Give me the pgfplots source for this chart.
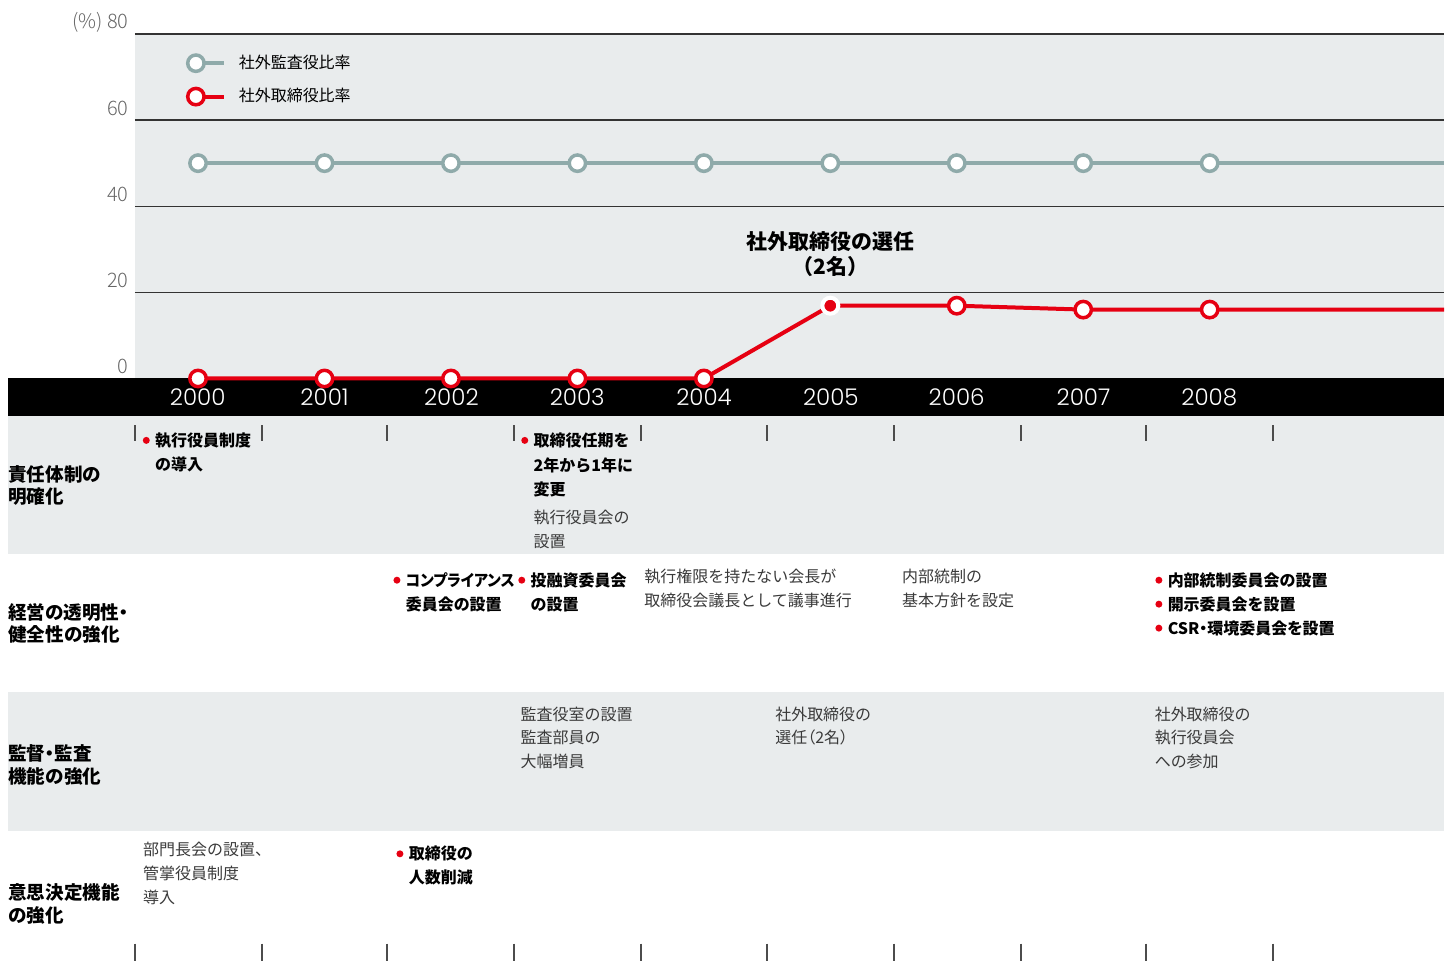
\documentclass[border=0pt]{standalone}
\usepackage{pgfplots}
\pgfplotsset{compat=1.18}
\usepackage{fontspec}
\setmainfont{Noto Sans CJK JP}
\IfFontExistsTF{Poppins Light}{\newfontfamily\yearfont{Poppins Light}}{\newfontfamily\yearfont{Poppins}}
\IfFontExistsTF{Noto Sans CJK JP Light}{\newfontfamily\tickfont{Noto Sans CJK JP Light}}{\newfontfamily\tickfont{Noto Sans CJK JP}}
\newcommand\palt{\addfontfeature{RawFeature=+palt}}
\definecolor{bggray}{HTML}{E9ECED}
\definecolor{grayline}{HTML}{8FAAAA}
\definecolor{jred}{HTML}{E60012}
\definecolor{ticklab}{HTML}{666666}
\definecolor{txt}{HTML}{3A3A3A}
\begin{document}
\begin{tikzpicture}
\begin{scope}[x=0.5bp,y=-0.5bp]
\path (0,0) rectangle (1446,965);
\fill[bggray] (8,417) rectangle (1446,555);
\fill[bggray] (8,693) rectangle (1446,832);
\fill[black] (8,379) rectangle (1446,417);
\end{scope}
\begin{axis}[
  at={(67.5bp,-189.5bp)}, anchor=south west,
  scale only axis, width=655.5bp, height=172.5bp,
  xmin=1999.5, xmax=2009.853, ymin=0, ymax=80,
  clip=false,
  axis line style={draw=none},
  xtick=\empty,
  ytick={20,40,60,80},
  yticklabels={20,40,60,{(\%) 80}},
  extra y ticks={0}, extra y tick labels={0},
  extra y tick style={grid=none},
  major tick length=0pt,
  ymajorgrids,
  grid style={draw=black!80, line width=0.7bp},
  yticklabel style={anchor=base east, inner sep=0pt, xshift=-3bp, yshift=2.5bp,
    font=\tickfont\fontsize{10bp}{12bp}\selectfont, text=ticklab},
  axis background/.style={fill=bggray},
  legend cell align=left,
  legend image code/.code={
    \draw[#1,mark=none] (0bp,0bp) -- (14bp,0bp);
    \draw[#1,only marks] plot coordinates {(0bp,0bp)};
    \path (20.5bp,0bp);
  },
  legend style={draw=none, fill=none, inner sep=0pt, outer sep=0pt,
    at={(0.0404,0.939)}, anchor=north west, row sep=8.5bp,
    font=\fontsize{8bp}{10bp}\selectfont,
    nodes={inner sep=0pt, text=black}},
]
\addplot[color=grayline, line width=2bp, mark=*, mark size=4.1bp,
  mark options={fill=white, draw=grayline, line width=1.75bp, solid},
  mark indices={1,2,3,4,5,6,7,8,9}]
  coordinates {(2000,50) (2001,50) (2002,50) (2003,50) (2004,50) (2005,50) (2006,50) (2007,50) (2008,50) (2009.853,50)};
\addlegendentry{社外監査役比率}
\addplot[color=jred, line width=2bp, mark=*, mark size=4.1bp,
  mark options={fill=white, draw=jred, line width=1.75bp, solid},
  mark indices={1,2,3,4,5,7,8,9}]
  coordinates {(2000,0) (2001,0) (2002,0) (2003,0) (2004,0) (2005,16.9) (2006,16.9) (2007,16.0) (2008,16.0) (2009.853,16.0)};
\addlegendentry{社外取締役比率}
\addplot[forget plot, only marks, mark=*, mark size=4bp,
  mark options={fill=jred, draw=white, line width=2bp}]
  coordinates {(2005,16.9)};
\end{axis}
\begin{scope}[x=0.5bp,y=-0.5bp,
  t/.style={anchor=base west, inner sep=0pt, text=txt, font=\fontsize{8bp}{10bp}\selectfont},
  b/.style={anchor=base west, inner sep=0pt, text=black, font=\fontsize{8bp}{10bp}\selectfont\bfseries},
  h/.style={anchor=base west, inner sep=0pt, text=black, font=\fontsize{9.3bp}{11bp}\selectfont\bfseries},
  yr/.style={anchor=base, inner sep=0pt, text=white, font=\yearfont\fontsize{11.5bp}{12bp}\selectfont}]
% annotation
\node[anchor=base, inner sep=0pt, font=\fontsize{10.5bp}{12bp}\selectfont\bfseries] at (832,250) {社外取締役の選任};
\node[anchor=base, inner sep=0pt, font=\fontsize{10.5bp}{12bp}\selectfont\bfseries] at (832,275) {（2名）};
% years
\foreach \yy/\xx in {2000/198,2001/325,2002/452,2003/578,2004/705,2005/832,2006/958,2007/1085,2008/1211}
  \node[yr] at (\xx,406) {\yy};
% tick marks
\foreach \xx in {135,262,388,515,642,768,895,1022,1148,1275}{
  \draw[black!70, line width=1bp] (\xx,426) -- (\xx,442);
  \draw[black!70, line width=1bp] (\xx,945) -- (\xx,962);
}
% row labels
\node[h] at (8,482) {責任体制の};
\node[h] at (8,504) {明確化};
\node[h] at (8,620) {\palt 経営の透明性・};
\node[h] at (8,642) {健全性の強化};
\node[h] at (8,762) {\palt 監督・監査};
\node[h] at (8,785) {機能の強化};
\node[h] at (8,901) {意思決定機能};
\node[h] at (8,924) {の強化};
% row 1
\fill[jred] (146.5,441) circle (3.5);
\node[b] at (155,447) {執行役員制度};
\node[b] at (155,471) {の導入};
\fill[jred] (525.5,441) circle (3.5);
\node[b] at (534,447) {取締役任期を};
\node[b] at (534,472) {2年から1年に};
\node[b] at (534,496) {変更};
\node[t] at (534,524) {執行役員会の};
\node[t] at (534,548) {設置};
% row 2
\fill[jred] (397.5,581) circle (3.5);
\node[b] at (406,587) {\scalebox{0.93}[1]{\palt コンプライアンス}};
\node[b] at (406,611) {委員会の設置};
\fill[jred] (522.5,581) circle (3.5);
\node[b] at (531,587) {投融資委員会};
\node[b] at (531,611) {の設置};
\node[t] at (645,583) {執行権限を持たない会長が};
\node[t] at (645,607) {取締役会議長として議事進行};
\node[t] at (903,583) {内部統制の};
\node[t] at (903,607) {基本方針を設定};
\fill[jred] (1160.5,581) circle (3.5);
\fill[jred] (1160.5,605) circle (3.5);
\fill[jred] (1160.5,629) circle (3.5);
\node[b] at (1169,587) {内部統制委員会の設置};
\node[b] at (1169,611) {開示委員会を設置};
\node[b] at (1169,635) {\palt CSR・環境委員会を設置};
% row 3
\node[t] at (521,721) {監査役室の設置};
\node[t] at (521,745) {監査部員の};
\node[t] at (521,769) {大幅増員};
\node[t] at (776,721) {社外取締役の};
\node[t] at (776,745) {\palt 選任（2名）};
\node[t] at (1156,721) {社外取締役の};
\node[t] at (1156,745) {執行役員会};
\node[t] at (1156,769) {への参加};
% row 4
\node[t] at (143,857) {部門長会の設置、};
\node[t] at (143,881) {管掌役員制度};
\node[t] at (143,905) {導入};
\fill[jred] (400.5,855) circle (3.5);
\node[b] at (409,861) {取締役の};
\node[b] at (409,885) {人数削減};
\end{scope}
\end{tikzpicture}
\end{document}
